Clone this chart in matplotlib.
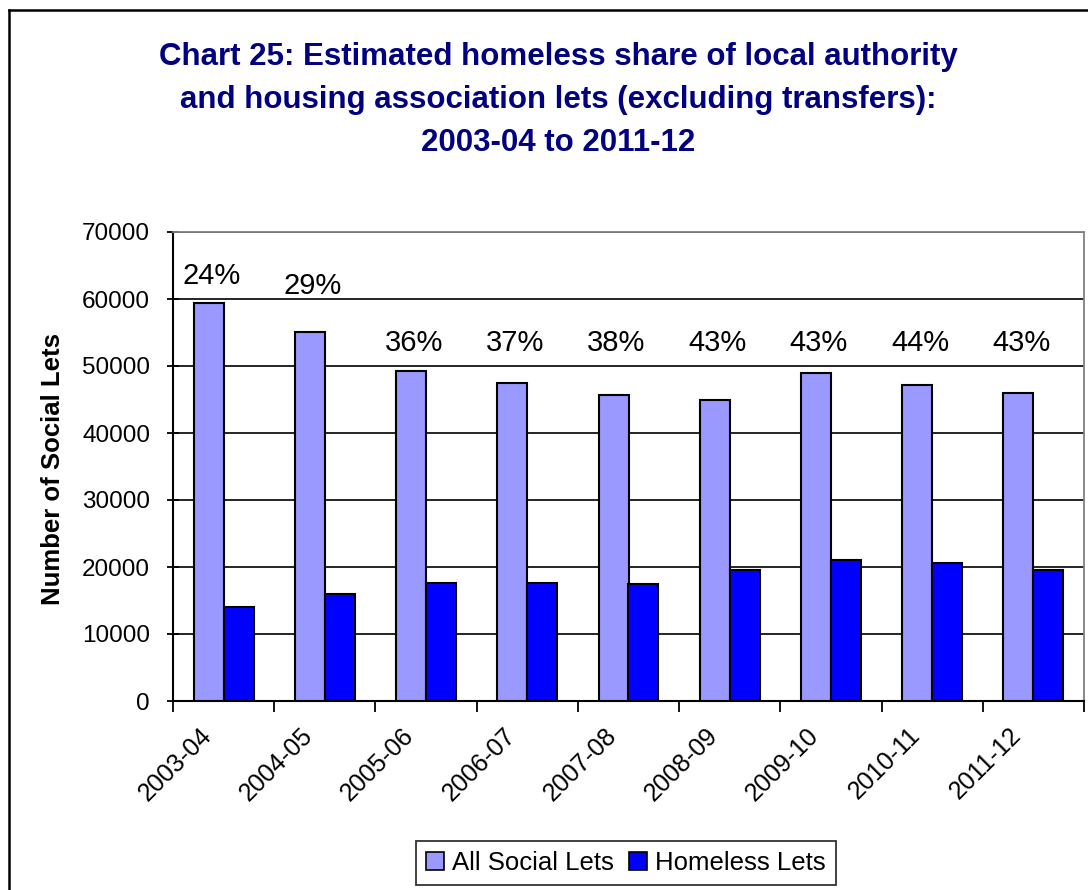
import numpy as np
import matplotlib.pyplot as plt
from matplotlib.lines import Line2D
from matplotlib.patches import Patch

plt.rcParams['font.family'] = ['Liberation Sans', 'DejaVu Sans']

years = ['2003-04', '2004-05', '2005-06', '2006-07', '2007-08',
         '2008-09', '2009-10', '2010-11', '2011-12']
all_lets = [59400, 55100, 49200, 47400, 45700, 45000, 48900, 47100, 45900]
homeless = [14000, 15900, 17600, 17600, 17500, 19500, 21100, 20600, 19600]
shares = ['24%', '29%', '36%', '37%', '38%', '43%', '43%', '44%', '43%']
share_y = [63500, 62000, 53500, 53500, 53500, 53500, 53500, 53500, 53500]
title_lines = ['Chart 25: Estimated homeless share of local authority',
               'and housing association lets (excluding transfers):',
               '2003-04 to 2011-12']

W, H = 1088, 890
fig = plt.figure(figsize=(W / 100, H / 100), dpi=100)
ax = fig.add_axes([173 / W, 1 - 701 / H, (1084 - 173) / W, (701 - 232) / H])

x = np.arange(len(years))
w = 0.296
ax.bar(x - w / 2, all_lets, w, color='#9999FF', edgecolor='black', linewidth=1.5, zorder=3)
ax.bar(x + w / 2, homeless, w, color='#0000FF', edgecolor='black', linewidth=1.5, zorder=3)

for xi, s, sy in zip(x, shares, share_y):
    ax.text(xi - 0.12, sy, s, ha='center', va='center', fontsize=21, zorder=4)

ax.set_xlim(-0.5, len(years) - 0.5)
ax.set_ylim(0, 70000)
ax.set_yticks(np.arange(0, 70001, 10000))
ax.yaxis.grid(True, color='black', linewidth=1.2, zorder=0)

# boundary ticks below the axis; rotated labels end a little left of centre
ax.set_xticks(np.arange(-0.5, len(years), 1))
ax.set_xticklabels([])
ax.set_xticks(x - 0.24, minor=True)
ax.set_xticklabels(years, minor=True, rotation=45, ha='right',
                   rotation_mode='anchor', fontsize=18)
ax.tick_params(axis='x', which='major', direction='out', length=8, width=1.3)
ax.tick_params(axis='x', which='minor', length=0, pad=16)
ax.tick_params(axis='y', direction='inout', length=9, width=1.3,
               labelsize=17.5, pad=12)

for side in ['top', 'right']:
    ax.spines[side].set_color('#808080')
    ax.spines[side].set_linewidth(1.3)
for side in ['left', 'bottom']:
    ax.spines[side].set_color('black')
    ax.spines[side].set_linewidth(1.5)

for i, line in enumerate(title_lines):
    fig.text(558 / W, 1 - (57 + 43 * i) / H, line, ha='center', va='center',
             fontsize=22.5, fontweight='bold', color='#000080')

fig.text(53 / W, 1 - 469 / H, 'Number of Social Lets', rotation=90,
         ha='center', va='center', fontsize=18.5, fontweight='bold')

handles = [Patch(facecolor='#9999FF', edgecolor='black', linewidth=1.2),
           Patch(facecolor='#0000FF', edgecolor='black', linewidth=1.2)]
leg = fig.legend(handles, ['All Social Lets', 'Homeless Lets'], ncol=2,
                 loc='center', bbox_to_anchor=(626 / W, 1 - 863 / H),
                 fontsize=18.5, frameon=True, fancybox=False,
                 handlelength=0.7, handleheight=0.7, handletextpad=0.3,
                 columnspacing=0.6, borderpad=0.4, borderaxespad=0)
leg.get_frame().set_edgecolor('black')
leg.get_frame().set_linewidth(1.3)

# outer chart frame (left and top edges)
fig.add_artist(Line2D([8.5 / W, 8.5 / W], [0, 1 - 10 / H], color='black', linewidth=1.8))
fig.add_artist(Line2D([8.5 / W, 1], [1 - 10 / H, 1 - 10 / H], color='black', linewidth=1.8))

fig.savefig('out.png', dpi=100)
